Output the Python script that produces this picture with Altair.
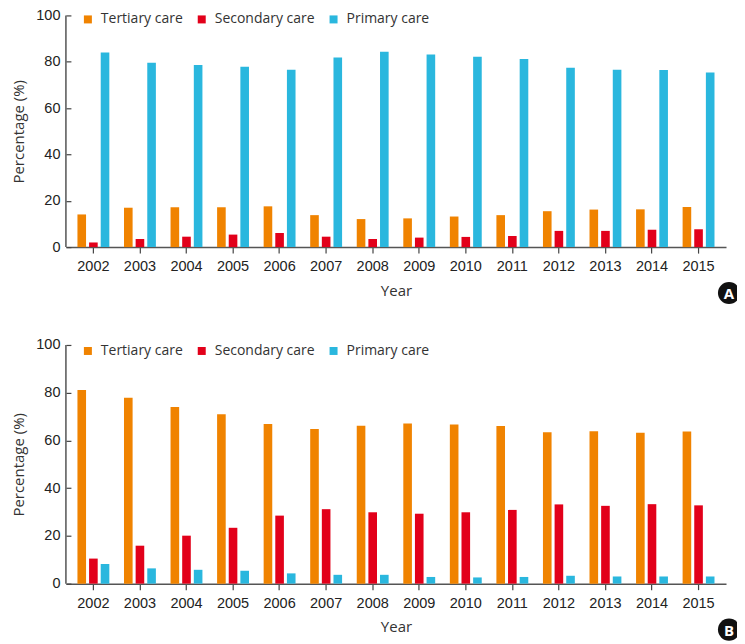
import altair as alt
import pandas as pd

years = [str(y) for y in range(2002, 2016)]
categories = ["Tertiary care", "Secondary care", "Primary care"]
colors = ["#F08300", "#E2001A", "#2AB7DE"]

# Panel A
a_tertiary = [14.1, 17.0, 17.2, 17.2, 17.6, 13.8, 12.1, 12.4, 13.2, 13.8, 15.5, 16.2, 16.3, 17.3]
a_secondary = [2.0, 3.5, 4.5, 5.4, 6.1, 4.5, 3.5, 4.1, 4.4, 4.8, 7.0, 7.0, 7.5, 7.7]
a_primary = [84.0, 79.6, 78.6, 77.8, 76.6, 81.8, 84.3, 83.1, 82.2, 81.2, 77.4, 76.6, 76.4, 75.4]

# Panel B
b_tertiary = [81.1, 77.9, 74.0, 71.0, 66.9, 64.8, 66.2, 67.1, 66.7, 66.0, 63.4, 63.9, 63.2, 63.7]
b_secondary = [10.5, 15.9, 20.1, 23.4, 28.5, 31.2, 29.9, 29.3, 29.9, 30.9, 33.2, 32.6, 33.3, 32.8]
b_primary = [8.2, 6.4, 5.8, 5.4, 4.3, 3.7, 3.7, 2.8, 2.6, 2.8, 3.3, 3.0, 3.0, 3.0]

W = 661
LABEL_FONT = "Liberation Sans"
TEXT_FONT = "Open Sans"


def make_df(t, s, p):
    rows = []
    for i, y in enumerate(years):
        for cat, vals in zip(categories, [t, s, p]):
            rows.append({"Year": y, "Care": cat, "Value": vals[i]})
    return pd.DataFrame(rows)


def panel(df, letter, H, legend_y):
    bars = alt.Chart(df).mark_bar(cornerRadius=0).encode(
        x=alt.X(
            "Year:O",
            sort=years,
            scale=alt.Scale(paddingInner=0.25, paddingOuter=0.215),
            axis=alt.Axis(
                title="Year",
                labelAngle=0,
                labelFont=LABEL_FONT,
                labelFontSize=14.5,
                labelColor="#222222",
                labelPadding=6.5,
                tickSize=6,
                tickColor="#444444",
                tickWidth=1.2,
                domainColor="#555555",
                domainWidth=1.5,
                titleFont=TEXT_FONT,
                titleFontSize=15,
                titleFontWeight="normal",
                titleColor="#333333",
                titlePadding=10,
                grid=False,
            ),
        ),
        xOffset=alt.XOffset(
            "Care:N",
            sort=categories,
            scale=alt.Scale(paddingInner=0.26, paddingOuter=0.13),
        ),
        y=alt.Y(
            "Value:Q",
            scale=alt.Scale(domain=[0, 100], nice=False),
            axis=alt.Axis(
                title="Percentage (%)",
                values=[0, 20, 40, 60, 80, 100],
                labelFont=LABEL_FONT,
                labelFontSize=14.5,
                labelColor="#222222",
                labelPadding=6,
                domain=False,
                offset=-5,
                tickSize=5,
                tickColor="#444444",
                tickWidth=1.2,
                grid=False,
                titleFont=TEXT_FONT,
                titleFontSize=15,
                titleFontWeight="normal",
                titleColor="#333333",
                titlePadding=9,
            ),
        ),
        color=alt.Color(
            "Care:N",
            sort=categories,
            scale=alt.Scale(domain=categories, range=colors),
            legend=alt.Legend(
                title=None,
                orient="none",
                direction="horizontal",
                legendX=15,
                legendY=legend_y,
                symbolType="square",
                symbolSize=64,
                symbolStrokeWidth=0,
                symbolOpacity=1,
                labelFont=TEXT_FONT,
                labelFontSize=14,
                labelColor="#333333",
                labelOffset=6,
                columnPadding=11,
            ),
        ),
    )
    one = pd.DataFrame({"k": [0]})
    yline = alt.Chart(one).mark_rule(color="#555555", strokeWidth=1.5).encode(
        x=alt.value(0), y=alt.value(0), y2=alt.value(H)
    )
    badge = alt.Chart(one).mark_circle(color="#111111", opacity=1, size=490).encode(
        x=alt.value(664), y=alt.value(H + 46)
    )
    badge_text = alt.Chart(one).mark_text(
        color="white", font=TEXT_FONT, fontSize=15, fontWeight="bold", baseline="middle", align="center"
    ).encode(x=alt.value(664), y=alt.value(H + 47), text=alt.value(letter))
    return alt.layer(bars, yline, badge, badge_text).properties(
        width=W, height=H, view=alt.ViewBackground(stroke="transparent")
    )


top = panel(make_df(a_tertiary, a_secondary, a_primary), "A", 232, -3)
bottom = panel(make_df(b_tertiary, b_secondary, b_primary), "B", 239, -1)

chart = (
    alt.vconcat(top, bottom, spacing=31)
    .resolve_legend(color="independent")
    .resolve_scale(color="independent")
    .properties(padding={"top": -2, "left": 3, "right": -4, "bottom": 0})
    .configure_view(stroke="transparent")
    .configure(background="white")
)

chart.save("out.html", embed_options={"renderer": "svg", "actions": False})
